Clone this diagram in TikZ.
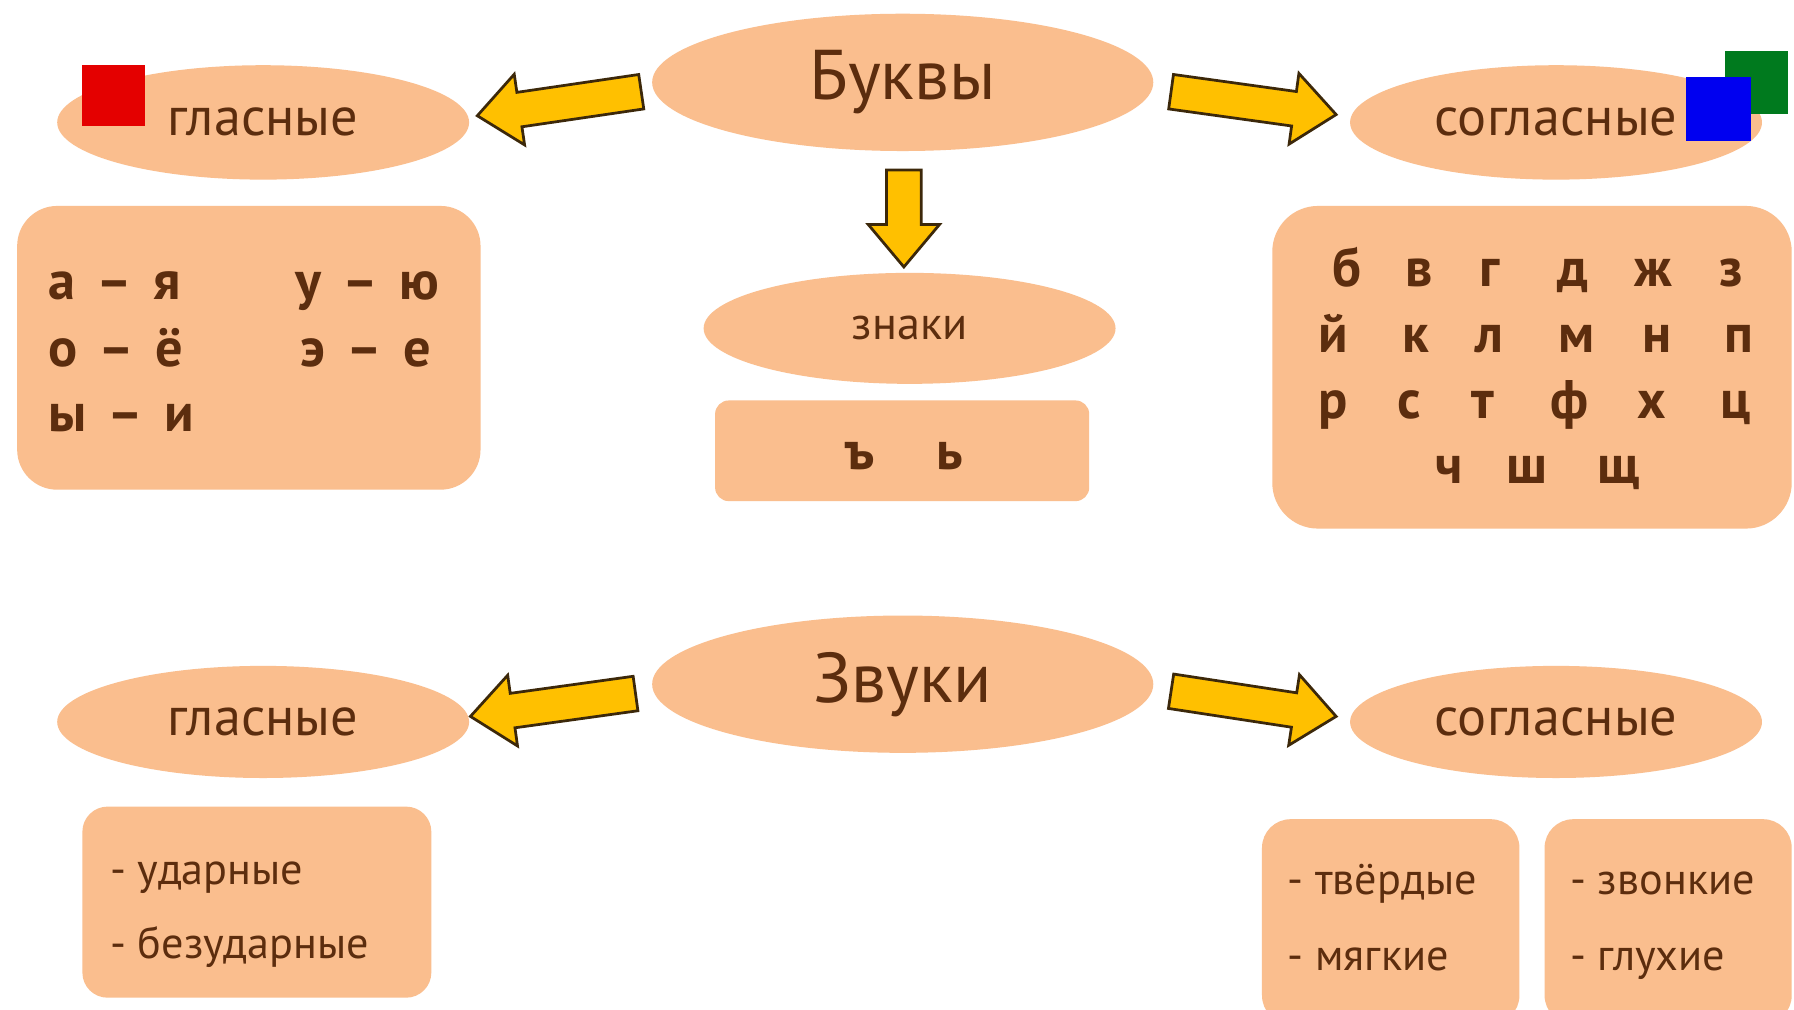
\documentclass[tikz,border=0pt]{standalone}
\usepackage{fontspec}
\setmainfont{PT Sans}
\usetikzlibrary{shapes.geometric,shapes.arrows,calc}

\definecolor{peach}{RGB}{250,190,142}
\definecolor{ink}{RGB}{92,45,14}
\definecolor{gold}{RGB}{255,192,0}
\definecolor{rim}{RGB}{60,40,10}
\definecolor{sqred}{RGB}{228,0,0}
\definecolor{sqgreen}{RGB}{0,122,30}
\definecolor{sqblue}{RGB}{0,0,240}

\newcommand\U{0.2mm}
\newcommand\fBig{\fontsize{35}{42}\selectfont}
\newcommand\fMid{\fontsize{27}{32}\selectfont}
\newcommand\fGrid{\fontsize{27}{32}\selectfont\bfseries}
\newcommand\fSmall{\fontsize{23}{28}\selectfont}
\newcommand\fList{\fontsize{22}{27}\selectfont}
\newcommand\gap{\hspace{0.39em}}

%% block arrow from tail #1 to tip #2
\newcommand\blockarrow[2]{%
  \path let \p1=(#1), \p2=(#2),
    \n1={atan2(\y2-\y1,\x2-\x1)}, \n2={veclen(\x2-\x1,\y2-\y1)} in
    node[barrow, minimum height=\n2, rotate=\n1, anchor=tail] at (#1) {};}

\tikzset{
  oval/.style={ellipse, fill=peach, text=ink, inner sep=0pt},
  card/.style={rectangle, fill=peach, inner sep=0pt},
  letter/.style={text=ink, font=\fGrid, anchor=base, inner sep=0pt},
  say/.style={text=ink, anchor=base west, inner sep=0pt},
  chip/.style={rectangle, inner sep=0pt},
  barrow/.style={single arrow, fill=gold, draw=rim, line width=2.4*\U,
    inner xsep=0pt, inner ysep=14*\U, minimum width=60*\U,
    single arrow head extend=16*\U, single arrow tip angle=80},
}

\begin{document}
\begin{tikzpicture}[x=\U, y=-\U]

  \clip (0,0) rectangle (1568,882);
  \fill[white] (0,0) rectangle (1568,882);

  %% ---- Буквы ----
  \node[oval, minimum width=438*\U, minimum height=120*\U, font=\fBig] (bukvy) at (789,72) {Буквы};
  \node[oval, minimum width=360*\U, minimum height=100*\U, font=\fMid] (glasB) at (230,107) {гласные};
  \node[oval, minimum width=360*\U, minimum height=100*\U, font=\fMid] (soglB) at (1360,107) {согласные};
  \node[oval, minimum width=360*\U, minimum height=97*\U, font=\fSmall] (znaki) at (795,287) {знаки};

  \node[chip, fill=sqred, minimum width=55*\U, minimum height=53*\U] (red) at (99.5,83.5) {};
  \node[chip, fill=sqgreen, minimum size=55*\U] (green) at (1535.5,72.5) {};
  \node[chip, fill=sqblue, minimum size=56*\U] (blue) at (1502,95) {};

  \node[card, minimum width=405*\U, minimum height=248*\U, rounded corners=35*\U] (vowbox) at (217.5,304) {};
  \node[card, minimum width=327*\U, minimum height=88*\U, rounded corners=12*\U] (signbox) at (788.5,394) {};
  \node[card, minimum width=454*\U, minimum height=282*\U, rounded corners=40*\U] (consbox) at (1339,321) {};

  % vowel pairs
  \node[say, font=\fGrid] (v1) at (42,262) {а\gap–\gap я};
  \node[say, font=\fGrid] (v2) at (258,262) {у\gap–\gap ю};
  \node[say, font=\fGrid] (v3) at (42,320) {о\gap–\gap ё};
  \node[say, font=\fGrid] (v4) at (262,320) {э\gap–\gap е};
  \node[say, font=\fGrid] (v5) at (42,377) {ы\gap–\gap и};

  % signs
  \node[letter] (hard) at (752,410) {ъ};
  \node[letter] (soft) at (830,410) {ь};

  % consonants
  \foreach \l/\x [count=\i] in {б/1177,в/1240,г/1302,д/1375,ж/1445,з/1513}
    \node[letter] (ca\i) at (\x,250) {\l};
  \foreach \l/\x [count=\i] in {й/1165,к/1237,л/1302,м/1378,н/1448,п/1520}
    \node[letter] (cb\i) at (\x,308) {\l};
  \foreach \l/\x [count=\i] in {р/1165,с/1232,т/1296,ф/1372,х/1444,ц/1517}
    \node[letter] (cc\i) at (\x,366) {\l};
  \foreach \l/\x [count=\i] in {ч/1267,ш/1335,щ/1415}
    \node[letter] (cd\i) at (\x,423) {\l};

  \coordinate (t1) at ([shift={(-8,8)}]bukvy.west);
  \coordinate (h1) at ([shift={(8,-6)}]glasB.east);
  \coordinate (t2) at ([shift={(14,8)}]bukvy.east);
  \coordinate (h2) at ([shift={(-13,-7)}]soglB.west);
  \coordinate (t3) at ([shift={(1,15)}]bukvy.south);
  \coordinate (h3) at ([shift={(-5,-6)}]znaki.north);
  \blockarrow{t1}{h1} %% Буквы->гласные
  \blockarrow{t2}{h2} %% Буквы->согласные
  \blockarrow{t3}{h3} %% Буквы->знаки

  %% ---- Звуки ----
  \node[oval, minimum width=438*\U, minimum height=120*\U, font=\fBig] (zvuki) at (789,598) {Звуки};
  \node[oval, minimum width=360*\U, minimum height=98*\U, font=\fMid] (glasZ) at (230,631) {гласные};
  \node[oval, minimum width=360*\U, minimum height=98*\U, font=\fMid] (soglZ) at (1360,631) {согласные};

  \node[card, minimum width=305*\U, minimum height=167*\U, rounded corners=22*\U] (stressbox) at (224.5,788.5) {};
  \node[card, minimum width=225*\U, minimum height=179*\U, rounded corners=25*\U] (hardbox) at (1215.5,805.5) {};
  \node[card, minimum width=216*\U, minimum height=179*\U, rounded corners=25*\U] (voicebox) at (1458,805.5) {};

  \node[say, font=\fList] (s1) at (96,773) {- ударные};
  \node[say, font=\fList] (s2) at (96,838) {- безударные};
  \node[say, font=\fList] (s3) at (1125,782) {- твёрдые};
  \node[say, font=\fList] (s4) at (1125,848) {- мягкие};
  \node[say, font=\fList] (s5) at (1372,782) {- звонкие};
  \node[say, font=\fList] (s6) at (1372,848) {- глухие};

  \coordinate (t4) at ([shift={(-13,8)}]zvuki.west);
  \coordinate (h4) at ([shift={(2,-5)}]glasZ.east);
  \coordinate (t5) at ([shift={(14,6)}]zvuki.east);
  \coordinate (h5) at ([shift={(-13,-5)}]soglZ.west);
  \blockarrow{t4}{h4} %% Звуки->гласные
  \blockarrow{t5}{h5} %% Звуки->согласные

\end{tikzpicture}
\end{document}
